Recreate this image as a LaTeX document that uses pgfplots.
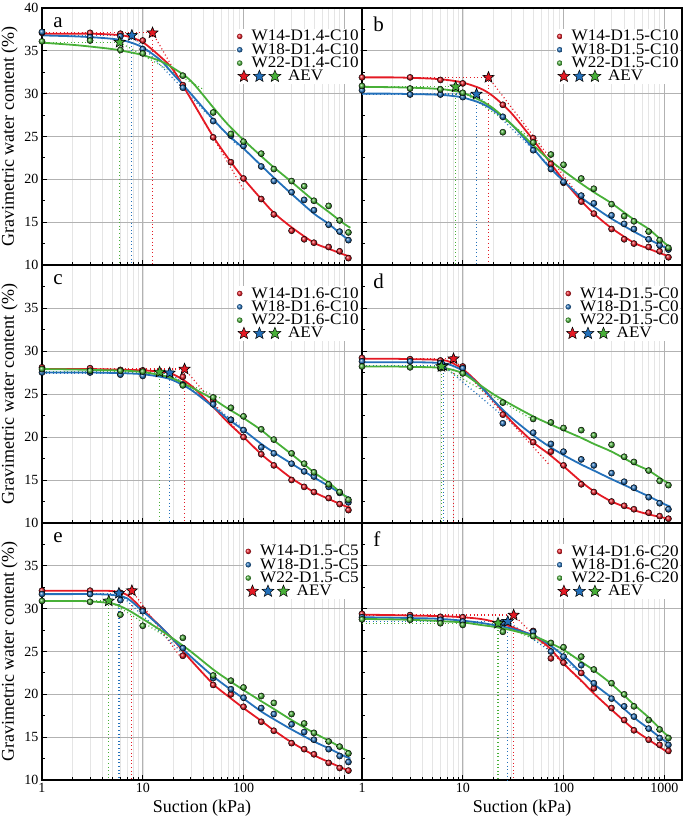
\documentclass[border=0pt]{standalone}
\usepackage{fontspec}
\setmainfont{Liberation Serif}
\newfontfamily\legfont[FakeStretch=1.07]{Liberation Serif}
\usepackage{pgfplots}
\pgfplotsset{compat=1.18}
\usepackage{pgfplotstable}
\usetikzlibrary{shapes.geometric}

\definecolor{cR}{RGB}{228,26,36}
\definecolor{cB}{RGB}{35,112,186}
\definecolor{cG}{RGB}{72,176,56}

\pgfdeclareplotmark{fstar}{%
  \pgfpathmoveto{\pgfpointpolar{90}{\pgfplotmarksize}}%
  \pgfpathlineto{\pgfpointpolar{126}{0.44\pgfplotmarksize}}%
  \pgfpathlineto{\pgfpointpolar{162}{\pgfplotmarksize}}%
  \pgfpathlineto{\pgfpointpolar{198}{0.44\pgfplotmarksize}}%
  \pgfpathlineto{\pgfpointpolar{234}{\pgfplotmarksize}}%
  \pgfpathlineto{\pgfpointpolar{270}{0.44\pgfplotmarksize}}%
  \pgfpathlineto{\pgfpointpolar{306}{\pgfplotmarksize}}%
  \pgfpathlineto{\pgfpointpolar{342}{0.44\pgfplotmarksize}}%
  \pgfpathlineto{\pgfpointpolar{18}{\pgfplotmarksize}}%
  \pgfpathlineto{\pgfpointpolar{54}{0.44\pgfplotmarksize}}%
  \pgfpathclose
  \pgfusepathqfillstroke}

% measured points
\pgfplotstableread{
x r b g
1 37.1 37.2 36.1
3 37.1 36.6 36.2
6 37.0 36.7 35.1
10 36.2 35.2 34.7
25 31.0 30.7 32.1
50 24.9 26.8 27.8
75 22.0 25.1 25.3
100 20.1 23.9 24.4
150 17.7 21.5 23.0
200 15.9 19.8 21.2
300 14.0 18.5 19.8
400 13.0 17.6 19.2
500 12.6 16.4 17.5
700 12.1 14.7 16.9
900 11.6 13.9 15.2
1100 10.8 12.9 13.8
}\mA
\pgfplotstableread{
x r b g
1 37.0 36.8 35.95
2 37.0 36.7 35.7
3 37.0 36.6 35.5
5 36.9 36.4 35.2
7 36.7 36.1 34.9
10 36.0 35.4 34.5
15 34.3 33.9 33.8
20 32.8 32.3 33.0
30 29.4 30.0 31.5
50 25.0 27.0 28.4
70 22.5 25.2 26.4
100 20.1 23.6 24.6
150 17.7 21.6 22.7
200 16.1 20.2 21.4
300 14.4 18.3 19.7
500 12.6 16.0 17.5
700 11.9 14.8 16.2
1000 11.2 13.3 14.8
1150 11.0 12.9 14.35
}\fA

\pgfplotstableread{
x r b g
1 31.9 30.4 30.9
3 31.9 29.9 30.6
6 31.6 29.9 30.5
10 31.2 29.6 30.1
25 28.7 27.3 25.5
50 24.8 23.4 24.3
75 21.8 21.2 22.9
100 19.6 19.7 21.7
150 17.4 18.1 20.1
200 16.0 17.2 18.9
300 14.2 15.8 17.1
400 13.0 14.8 15.7
500 12.5 14.2 15.1
700 12.1 13.0 13.9
900 11.6 12.3 12.9
1100 10.9 11.8 12.0
}\mB
\pgfplotstableread{
x r b g
1 31.9 30.0 30.8
2 31.9 30.0 30.75
3 31.85 29.95 30.7
5 31.75 29.9 30.6
7 31.6 29.8 30.45
10 31.3 29.55 30.1
15 30.6 28.9 29.2
20 29.7 28.1 28.3
30 27.8 26.5 26.5
50 24.6 23.6 24.0
70 22.3 21.6 22.4
100 19.9 19.8 21.0
150 17.5 17.9 19.5
200 16.0 16.8 18.5
300 14.3 15.4 17.2
500 12.6 13.9 15.3
700 11.9 13.0 14.2
1000 11.2 12.1 12.6
1150 11.0 11.85 12.1
}\fB

\pgfplotstableread{
x r b g
1 28.1 27.5 27.9
3 28.0 27.5 27.7
6 27.8 27.25 27.7
10 27.75 27.1 27.6
25 27.0 26.1 26.0
50 24.3 23.8 24.6
75 22.0 22.0 23.4
100 20.0 20.8 22.4
150 18.0 18.8 20.9
200 16.7 18.1 19.7
300 15.0 16.9 18.1
400 14.2 16.0 16.9
500 13.6 15.4 15.9
700 12.9 14.2 14.5
900 12.2 13.5 13.6
1100 11.5 12.4 12.7
}\mC
\pgfplotstableread{
x r b g
1 27.9 27.5 27.9
2 27.9 27.5 27.85
3 27.9 27.5 27.8
5 27.85 27.45 27.75
7 27.8 27.4 27.7
10 27.75 27.3 27.55
15 27.6 27.0 27.2
20 27.3 26.6 26.8
30 26.0 25.5 25.8
50 23.5 23.5 24.4
70 21.7 22.1 23.3
100 20.0 20.8 22.2
150 18.0 19.2 20.8
200 16.8 18.2 19.6
300 15.2 16.9 18.0
500 13.6 15.3 15.9
700 12.8 14.3 14.7
1000 12.0 13.2 13.2
1150 11.8 12.9 12.8
}\fC

\pgfplotstableread{
x r b g
1 29.2 28.8 28.2
3 29.05 28.8 28.1
6 28.9 28.6 28.0
10 28.2 28.0 27.4
25 22.6 21.6 24.0
50 19.4 20.5 22.1
75 18.3 19.2 21.7
100 16.7 18.3 21.05
150 14.5 17.4 20.8
200 13.6 16.7 20.2
300 12.5 15.8 19.1
400 12.0 14.8 17.7
500 11.6 14.1 17.1
700 11.2 13.0 16.1
900 10.8 12.3 14.9
1100 10.5 11.6 14.4
}\mD
\pgfplotstableread{
x r b g
1 29.1 28.7 28.2
2 29.1 28.7 28.2
3 29.05 28.7 28.15
5 29.0 28.65 28.1
7 28.85 28.5 27.95
10 27.9 27.7 27.4
15 26.0 25.9 26.0
20 24.3 24.3 25.0
30 21.9 22.3 23.8
50 19.4 20.2 22.4
70 18.1 19.0 21.6
100 16.6 17.9 20.8
150 14.8 16.8 19.9
200 13.7 16.1 19.2
300 12.5 15.1 18.3
500 11.5 13.9 16.9
700 11.0 13.1 16.1
1000 10.6 12.2 14.9
1150 10.45 11.9 14.55
}\fD

\pgfplotstableread{
x r b g
1 32.1 31.7 30.9
3 32.1 31.7 30.8
6 31.85 31.0 29.3
10 29.9 29.7 28.0
25 24.5 25.4 26.6
50 21.1 21.9 22.2
75 20.0 20.6 21.6
100 18.55 19.6 20.8
150 16.8 18.4 19.8
200 15.75 17.7 19.0
300 14.3 16.5 17.7
400 13.6 15.6 16.6
500 13.0 14.7 15.5
700 12.0 13.6 14.5
900 11.4 12.8 13.9
1100 11.1 12.1 13.1
}\mE
\pgfplotstableread{
x r b g
1 32.1 31.7 30.9
2 32.1 31.7 30.9
3 32.1 31.7 30.85
5 32.05 31.6 30.6
7 31.6 31.2 29.9
10 29.9 29.7 28.8
15 27.9 27.9 27.5
20 26.4 26.4 26.5
30 24.0 24.4 25.0
50 21.2 22.1 22.9
70 19.8 20.8 21.7
100 18.4 19.5 20.5
150 16.9 18.0 19.2
200 15.8 17.1 18.3
300 14.4 15.9 17.0
500 12.9 14.5 15.5
700 12.1 13.7 14.6
1000 11.3 12.8 13.6
1150 11.05 12.5 13.3
}\fE

\pgfplotstableread{
x r b g
1 29.4 29.0 28.75
3 29.25 29.0 28.7
6 29.05 28.7 28.3
10 29.0 28.5 28.1
25 28.4 28.4 27.3
50 27.4 27.3 26.8
75 24.2 25.0 26.0
100 23.7 24.4 25.5
150 22.5 23.4 24.4
200 20.7 21.3 22.9
300 18.4 19.5 21.3
400 17.0 18.6 20.0
500 15.8 17.4 18.6
700 14.7 16.0 17.0
900 14.1 14.9 15.9
1100 13.4 14.1 14.9
}\mF
\pgfplotstableread{
x r b g
1 29.3 29.0 28.8
2 29.25 28.95 28.75
3 29.2 28.9 28.7
5 29.15 28.85 28.6
7 29.1 28.75 28.5
10 29.0 28.6 28.4
15 28.8 28.35 28.1
20 28.5 28.1 27.9
30 27.9 27.7 27.5
50 26.8 26.9 26.8
70 25.6 25.9 26.1
100 23.6 24.5 25.2
150 21.6 22.5 23.8
200 20.1 21.2 22.8
300 18.2 19.6 21.2
500 15.9 17.3 18.8
700 14.7 16.0 17.3
1000 13.5 14.6 15.5
1150 13.1 14.2 15.0
}\fF

\pgfplotsset{
  every axis/.append style={
    anchor=south west, scale only axis, width=320pt,
    xmin=1, xmax=1500, ymin=10, ymax=40,
    xtick={1,10,100,1000},
    minor ytick={12.5,17.5,22.5,27.5,32.5,37.5},
    tick align=inside, tick pos=left,
    major tick length=5pt, minor tick length=3pt,
    xmajorgrids, xminorgrids, ymajorgrids,
    major grid style={black!30, line width=0.9pt},
    minor grid style={black!10, line width=0.5pt},
    axis line style={line width=1.3pt},
    /pgf/number format/assume math mode=true,
    tick label style={font=\fontsize{14}{14}\selectfont},
    label style={font=\fontsize{18}{18}\selectfont},
    legend style={at={(rel axis cs:0.995,0.92)}, anchor=north east, draw=none, fill=white,
      font=\legfont\fontsize{16}{16}\selectfont, inner sep=1pt, row sep=0pt, column sep=8.5pt,
      nodes={inner sep=0.6pt}},
    legend cell align=left,
  },
  every tick/.style={black, line width=0.9pt},
}

\newcommand{\series}[4]{%
  \addplot[#4, line width=1.8pt, smooth, forget plot] table[x=x, y=#3] {#2};
  \addplot[only marks, mark=ball, ball color=#4, mark size=3.1pt, forget plot] table[x=x, y=#3] {#1};
}
\newcommand{\aev}[5]{%
  \addplot[#5, line width=1.2pt, dash pattern=on 1pt off 2.6pt, forget plot] coordinates {(1,#2) (#1,#2)};
  \addplot[#5, line width=1.2pt, dash pattern=on 1pt off 2.6pt, forget plot] coordinates {(#1,#2) (#1,10)};
  \addplot[#5, line width=1.2pt, dash pattern=on 1pt off 2.6pt, forget plot] coordinates {(#1,#2) (#3,#4)};
}
\newcommand{\aevstar}[3]{%
  \addplot[only marks, mark=fstar, mark size=5.8pt, mark options={fill=#3, draw=black, line width=0.6pt}, forget plot] coordinates {(#1,#2)};
}
\newcommand{\leg}[1]{%
  \addlegendimage{legend image code/.code={\shade[draw=none, ball color=cR] (2.8pt,0pt) circle (2.8pt);}}
  \addlegendentry{W14-#1}
  \addlegendimage{legend image code/.code={\shade[draw=none, ball color=cB] (2.8pt,0pt) circle (2.8pt);}}
  \addlegendentry{W18-#1}
  \addlegendimage{legend image code/.code={\shade[draw=none, ball color=cG] (2.8pt,0pt) circle (2.8pt);}}
  \addlegendentry{W22-#1}
  \addlegendimage{legend image code/.code={%
    \path[draw=none, fill=none] (0pt,-2.8pt) rectangle (5.6pt,2.8pt);
    \node[overlay, star, star points=5, star point ratio=2.3, minimum size=12.5pt, inner sep=0pt, fill=cR, draw=black, line width=0.5pt] at (3pt,0pt) {};
    \node[overlay, star, star points=5, star point ratio=2.3, minimum size=12.5pt, inner sep=0pt, fill=cB, draw=black, line width=0.5pt] at (18.5pt,0pt) {};
    \node[overlay, star, star points=5, star point ratio=2.3, minimum size=12.5pt, inner sep=0pt, fill=cG, draw=black, line width=0.5pt] at (34pt,0pt) {};
    \node[overlay, anchor=west, inner sep=0pt, font=\legfont\fontsize{16}{16}\selectfont] at (51pt,0pt) {AEV};}}
  \addlegendentry{\vphantom{W}}
}
\newcommand{\letter}[1]{\node[anchor=north west, font=\fontsize{21}{21}\selectfont, inner sep=0pt] at (rel axis cs:0.035,0.965) {#1};}

\begin{document}
\begin{tikzpicture}
\path[use as bounding box] (0pt,0pt) rectangle (685pt,822pt);

% ---------- a ----------
\begin{semilogxaxis}[at={(42pt,557pt)}, height=257pt, xticklabels={},
  ytick={10,15,20,25,30,35,40},
  ylabel={Gravimetric water content (\%)}]
\aev{12.5}{37.1}{100}{18.8}{cR}
\aev{7.8}{36.8}{90}{23.8}{cB}
\aev{5.9}{36.0}{40}{30.5}{cG}
\series{\mA}{\fA}{r}{cR}
\series{\mA}{\fA}{b}{cB}
\series{\mA}{\fA}{g}{cG}
\aevstar{12.5}{37.1}{cR}
\aevstar{7.8}{36.8}{cB}
\aevstar{5.9}{36.0}{cG}
\letter{a}
\leg{D1.4-C10}
\end{semilogxaxis}

% ---------- c ----------
\begin{semilogxaxis}[at={(42pt,299pt)}, height=258pt, xticklabels={},
  ytick={10,15,20,25,30,35},
  ylabel={Gravimetric water content (\%)}]
\aev{26}{27.9}{90}{20.5}{cR}
\aev{18.5}{27.45}{100}{21.0}{cB}
\aev{14.7}{27.55}{60}{24.5}{cG}
\series{\mC}{\fC}{r}{cR}
\series{\mC}{\fC}{b}{cB}
\series{\mC}{\fC}{g}{cG}
\aevstar{26}{27.9}{cR}
\aevstar{18.5}{27.45}{cB}
\aevstar{14.7}{27.55}{cG}
\letter{c}
\leg{D1.6-C10}
\end{semilogxaxis}

% ---------- e ----------
\begin{semilogxaxis}[at={(42pt,42pt)}, height=257pt, xticklabels={1,10,100,{}},
  ytick={10,15,20,25,30,35},
  ylabel={Gravimetric water content (\%)}, xlabel={Suction (kPa)}]
\aev{7.8}{32.1}{25}{24.0}{cR}
\aev{5.8}{31.8}{25}{24.8}{cB}
\aev{4.6}{30.9}{25}{25.5}{cG}
\series{\mE}{\fE}{r}{cR}
\series{\mE}{\fE}{b}{cB}
\series{\mE}{\fE}{g}{cG}
\aevstar{7.8}{32.1}{cR}
\aevstar{5.8}{31.8}{cB}
\aevstar{4.6}{30.9}{cG}
\letter{e}
\leg{D1.5-C5}
\end{semilogxaxis}

% ---------- b ----------
\begin{semilogxaxis}[at={(362pt,557pt)}, height=257pt, xticklabels={},
  ytick={10,15,20,25,30,35,40}, yticklabels={}]
\aev{18}{31.9}{144}{18.0}{cR}
\aev{13.7}{29.95}{100}{20.0}{cB}
\aev{8.5}{30.8}{60}{24.0}{cG}
\series{\mB}{\fB}{r}{cR}
\series{\mB}{\fB}{b}{cB}
\series{\mB}{\fB}{g}{cG}
\aevstar{18}{31.9}{cR}
\aevstar{13.7}{29.95}{cB}
\aevstar{8.5}{30.8}{cG}
\letter{b}
\leg{D1.5-C10}
\end{semilogxaxis}

% ---------- d ----------
\begin{semilogxaxis}[at={(362pt,299pt)}, height=258pt, xticklabels={},
  ytick={10,15,20,25,30,35,40}, yticklabels={}]
\aev{8.1}{29.1}{72}{16.8}{cR}
\aev{6.4}{28.3}{50}{19.5}{cB}
\aev{6.15}{28.2}{50}{22.0}{cG}
\series{\mD}{\fD}{r}{cR}
\series{\mD}{\fD}{b}{cB}
\series{\mD}{\fD}{g}{cG}
\aevstar{8.1}{29.1}{cR}
\aevstar{6.4}{28.3}{cB}
\aevstar{6.15}{28.2}{cG}
\letter{d}
\leg{D1.5-C0}
\end{semilogxaxis}

% ---------- f ----------
\begin{semilogxaxis}[at={(362pt,42pt)}, height=257pt, xticklabels={1,10,100,1000},
  ytick={10,15,20,25,30,35,40}, yticklabels={},
  xlabel={Suction (kPa)}]
\aev{32}{29.25}{150}{21.5}{cR}
\aev{28}{28.5}{150}{22.5}{cB}
\aev{22.4}{28.3}{150}{24.0}{cG}
\series{\mF}{\fF}{r}{cR}
\series{\mF}{\fF}{b}{cB}
\series{\mF}{\fF}{g}{cG}
\aevstar{32}{29.25}{cR}
\aevstar{28}{28.5}{cB}
\aevstar{22.4}{28.3}{cG}
\letter{f}
\leg{D1.6-C20}
\end{semilogxaxis}
\end{tikzpicture}
\end{document}
